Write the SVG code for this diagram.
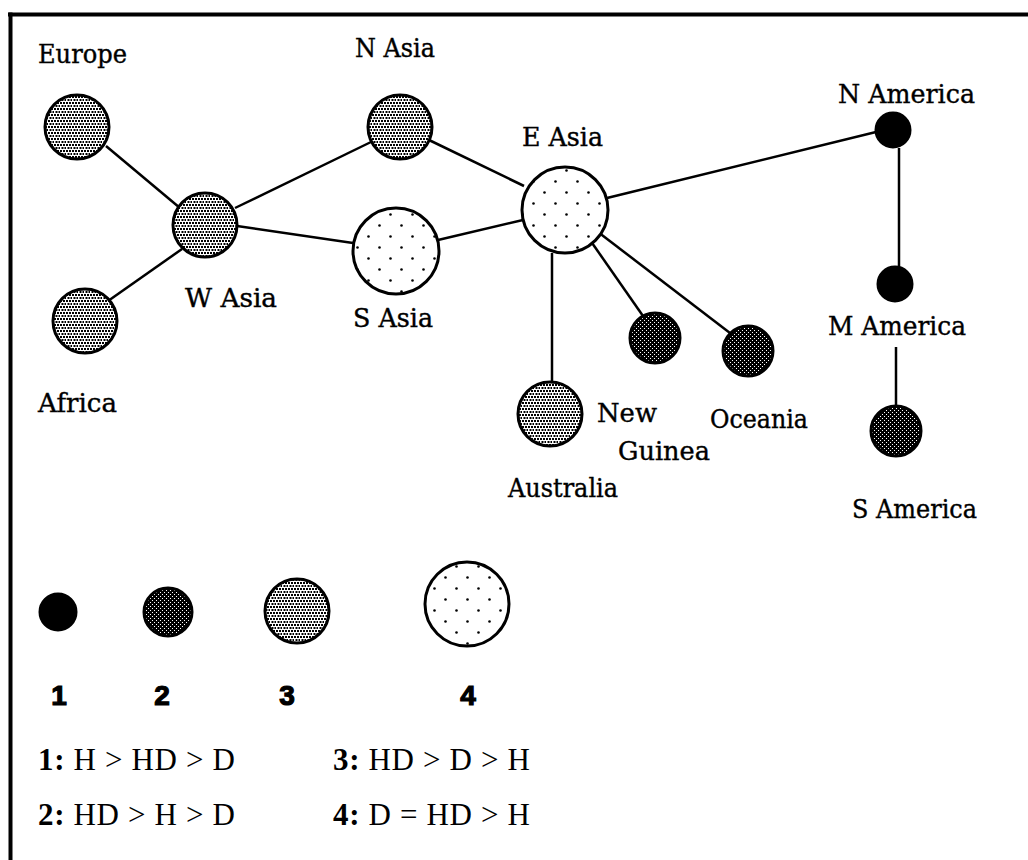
<svg xmlns="http://www.w3.org/2000/svg" width="1028" height="860" viewBox="0 0 1028 860">
<defs>
<pattern id="p2" width="4" height="4" patternUnits="userSpaceOnUse">
<rect width="4" height="4" fill="#000"/>
<rect x="0" y="0" width="1" height="1" fill="#fff"/>
<rect x="2" y="2" width="1" height="1" fill="#fff"/>
</pattern>
<pattern id="p3" width="6" height="6" patternUnits="userSpaceOnUse">
<rect width="6" height="6" fill="#fff"/>
<rect x="0" y="0" width="2" height="2" fill="#000"/>
<rect x="3" y="0" width="2" height="2" fill="#000"/>
<rect x="1.5" y="3" width="2" height="2" fill="#000"/>
<rect x="4.5" y="3" width="2" height="2" fill="#000"/>
</pattern>
<pattern id="p4" width="22" height="22" patternUnits="userSpaceOnUse">
<rect width="22" height="22" fill="#fff"/>
<circle cx="5.5" cy="5.5" r="1.3" fill="#000"/>
<circle cx="16.5" cy="16.5" r="1.3" fill="#000"/>
</pattern>
</defs>
<style>
.t1{fill:#000;stroke:#000;stroke-width:3}
.t2{fill:url(#p2);stroke:#000;stroke-width:3}
.t3{fill:url(#p3);stroke:#000;stroke-width:3}
.t4{fill:url(#p4);stroke:#000;stroke-width:3}
.lbl{font-family:"DejaVu Serif","Liberation Serif",serif;font-size:26px;fill:#000;stroke:#000;stroke-width:0.4}
.num{font-family:"Liberation Sans",Arial,sans-serif;font-weight:bold;font-size:28px;fill:#000;stroke:#000;stroke-width:1.2;text-anchor:middle}
.leg{font-family:"Liberation Serif","Times New Roman",serif;font-size:31px;fill:#000}
.leg tspan.b{font-weight:bold}
#edges line{stroke:#000;stroke-width:2.5}
</style>
<rect width="1028" height="860" fill="#fff"/>
<g id="frame">
<line x1="8" y1="14.5" x2="1028" y2="14.5" stroke="#000" stroke-width="4"/>
<line x1="10.5" y1="12.5" x2="10.5" y2="860" stroke="#000" stroke-width="4"/>
</g>
<g id="edges">
<line x1="106" y1="146" x2="180" y2="208"/>
<line x1="182" y1="249" x2="108" y2="301"/>
<line x1="235" y1="208" x2="371" y2="142"/>
<line x1="237" y1="226" x2="353" y2="243"/>
<line x1="429" y1="140" x2="524" y2="186"/>
<line x1="438" y1="240" x2="523" y2="220"/>
<line x1="607" y1="198" x2="876" y2="132"/>
<line x1="552" y1="253" x2="552" y2="383"/>
<line x1="590" y1="240" x2="643" y2="316"/>
<line x1="598" y1="232" x2="730" y2="333"/>
<line x1="899" y1="148" x2="899" y2="267"/>
<line x1="896" y1="347" x2="896" y2="406"/>
</g>
<g id="europe"><circle class="t3" cx="77" cy="127" r="32"/><text class="lbl" x="38" y="63" textLength="89" lengthAdjust="spacingAndGlyphs">Europe</text></g>
<g id="wasia"><circle class="t3" cx="205" cy="225" r="32"/><text class="lbl" x="185" y="307" textLength="92" lengthAdjust="spacingAndGlyphs">W Asia</text></g>
<g id="africa"><circle class="t3" cx="85" cy="321" r="32"/><text class="lbl" x="38" y="412" textLength="79" lengthAdjust="spacingAndGlyphs">Africa</text></g>
<g id="nasia"><circle class="t3" cx="400" cy="127" r="32"/><text class="lbl" x="355" y="57" textLength="80" lengthAdjust="spacingAndGlyphs">N Asia</text></g>
<g id="sasia"><circle class="t4" cx="396" cy="251" r="43"/><text class="lbl" x="353" y="327" textLength="80" lengthAdjust="spacingAndGlyphs">S Asia</text></g>
<g id="easia"><circle class="t4" cx="565" cy="210" r="43"/><text class="lbl" x="522" y="146" textLength="81" lengthAdjust="spacingAndGlyphs">E Asia</text></g>
<g id="namerica"><circle class="t1" cx="893" cy="130" r="17"/><text class="lbl" x="838" y="103" textLength="137" lengthAdjust="spacingAndGlyphs">N America</text></g>
<g id="mamerica"><circle class="t1" cx="895" cy="284" r="17"/><text class="lbl" x="828" y="335" textLength="138" lengthAdjust="spacingAndGlyphs">M America</text></g>
<g id="samerica"><circle class="t2" cx="896" cy="431" r="25"/><text class="lbl" x="852" y="518" textLength="125" lengthAdjust="spacingAndGlyphs">S America</text></g>
<g id="newguinea"><circle class="t2" cx="655" cy="338" r="25"/><text class="lbl" x="597" y="422" textLength="60" lengthAdjust="spacingAndGlyphs">New</text><text class="lbl" x="618" y="460" textLength="92" lengthAdjust="spacingAndGlyphs">Guinea</text></g>
<g id="oceania"><circle class="t2" cx="748" cy="351" r="25"/><text class="lbl" x="710" y="428" textLength="98" lengthAdjust="spacingAndGlyphs">Oceania</text></g>
<g id="australia"><circle class="t3" cx="550" cy="414" r="32"/><text class="lbl" x="508" y="497" textLength="110" lengthAdjust="spacingAndGlyphs">Australia</text></g>
<g id="legend">
<circle class="t1" cx="58" cy="612" r="18"/>
<circle class="t2" cx="168" cy="612" r="24"/>
<circle class="t3" cx="297" cy="611" r="32"/>
<circle class="t4" cx="467" cy="604" r="42"/>
<text class="num" x="59" y="705">1</text>
<text class="num" x="162" y="705">2</text>
<text class="num" x="287" y="705">3</text>
<text class="num" x="468" y="705">4</text>
<text class="leg" x="38" y="770" textLength="197"><tspan class="b">1:</tspan> H &gt; HD &gt; D</text>
<text class="leg" x="333" y="770" textLength="197"><tspan class="b">3:</tspan> HD &gt; D &gt; H</text>
<text class="leg" x="38" y="825" textLength="197"><tspan class="b">2:</tspan> HD &gt; H &gt; D</text>
<text class="leg" x="333" y="825" textLength="197"><tspan class="b">4:</tspan> D = HD &gt; H</text>
</g>
</svg>
